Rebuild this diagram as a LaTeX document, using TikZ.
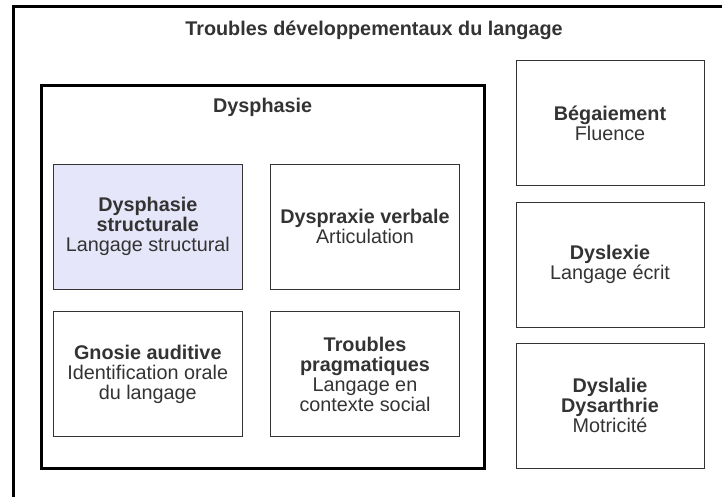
\documentclass[tikz,border=0pt]{standalone}
\usepackage{fontspec}
\setmainfont{Liberation Sans}
\definecolor{txtgray}{HTML}{333333}
\definecolor{structfill}{HTML}{E6E6FA}
\begin{document}
\begin{tikzpicture}[x=1pt,y=-1pt]
\def\bw{189}
\def\bh{125}
\tikzset{
base/.style={font=\fontsize{19.8}{20}\selectfont,text=txtgray,align=center},
box/.style={base,draw=black!80,line width=1pt,minimum width=\bw,minimum height=\bh,inner sep=2pt},
side/.style={box,minimum width=\bw-1},
frame/.style={draw=black,line width=3pt},
heading/.style={base,font=\fontsize{19.8}{20}\selectfont\bfseries,anchor=base}}
\useasboundingbox (0,0) rectangle (722,497);
\clip (0,0) rectangle (722,497);
\draw[frame] (13.3,7) rectangle (740,520);
\node[heading] at (374,36) (titre) {Troubles développementaux du langage};
\node[frame,minimum width=442.7,minimum height=383.3] at (262.7,277.2) (dysph) {};
\node[heading] at (262.7,113) (dysphlab) {Dysphasie};
% groupe dysphasie
\node[box,fill=structfill] at (147.8,226.7) (struct) {\textbf{Dysphasie}\\\textbf{structurale}\\Langage structural};
\node[box] at (365,226.7) (praxie) {\textbf{Dyspraxie verbale}\\Articulation};
\node[box] at (147.8,374.2) (gnosie) {\textbf{Gnosie auditive}\\Identification orale\\du langage};
\node[box] at (365,374.2) (pragma) {\textbf{Troubles}\\\textbf{pragmatiques}\\Langage en\\contexte social};
% colonne de droite
\node[side] at (610,123.2) (begai) {\textbf{Bégaiement}\\Fluence};
\node[side] at (610,264.8) (dyslex) {\textbf{Dyslexie}\\Langage écrit};
\node[side] at (610,405.8) (dyslal) {\textbf{Dyslalie}\\\textbf{Dysarthrie}\\Motricité};
\end{tikzpicture}
\end{document}
